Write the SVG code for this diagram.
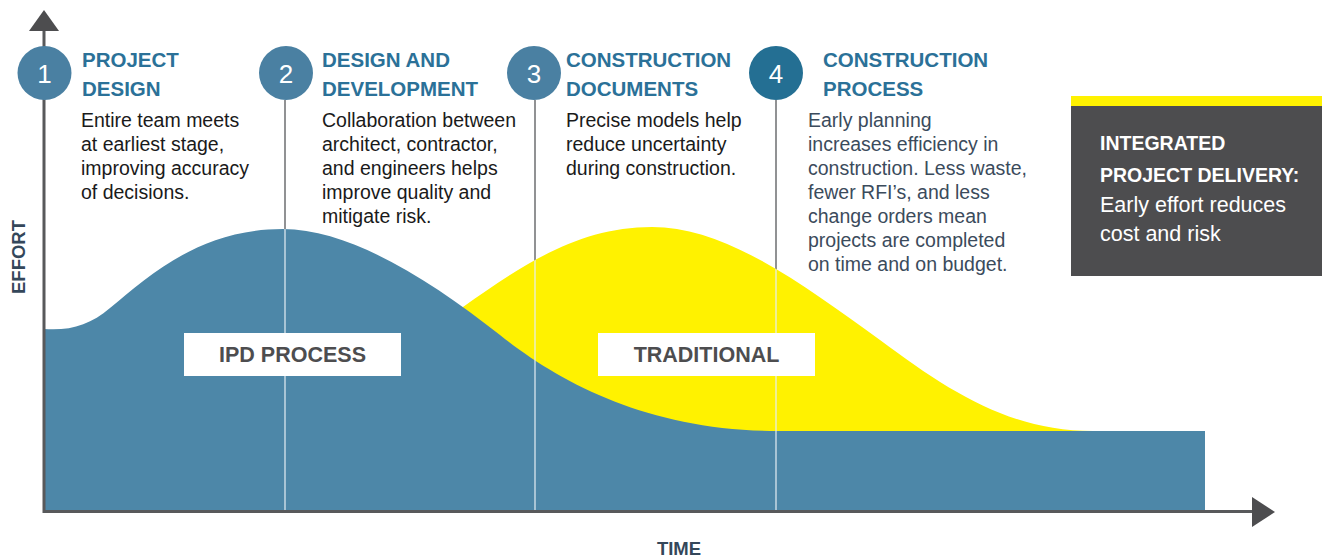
<svg xmlns="http://www.w3.org/2000/svg" width="1322" height="560" viewBox="0 0 1322 560">
<style>
.num{font-family:"Liberation Sans",Arial,sans-serif;font-size:26px;fill:#fff;text-anchor:middle}
.ttl{font-family:"Liberation Sans",Arial,sans-serif;font-size:20.5px;font-weight:bold;fill:#2b7198}
.body{font-family:"Liberation Sans",Arial,sans-serif;font-size:19.5px;fill:#1a1a1a}
.body4{font-family:"Liberation Sans",Arial,sans-serif;font-size:19.5px;fill:#3b4b5c}
.lbl{font-family:"Liberation Sans",Arial,sans-serif;font-size:21.5px;font-weight:bold;fill:#4d4d4f;text-anchor:middle}
.axl{font-family:"Liberation Sans",Arial,sans-serif;font-size:18.5px;font-weight:bold;fill:#34475a;text-anchor:middle}
.boxb{font-family:"Liberation Sans",Arial,sans-serif;font-size:19.5px;font-weight:bold;fill:#fff}
.boxr{font-family:"Liberation Sans",Arial,sans-serif;font-size:21.5px;fill:#fff}
.vline{stroke:#6d6e71;stroke-width:1.5;fill:none}
.wline{stroke:#e6eef3;stroke-width:1.2;fill:none}
.axis{stroke:#58595b;stroke-width:3;fill:none}
</style>
<defs>
<path id="bluePath" d="M44,329 C70,331 90,325 110,308 C150,275 200,229 283,229 C350,229 430,280 500,335 C560,383 650,431 777,431 L1205,431 L1205,511 L44,511 Z"/>
<path id="yellowPath" d="M463,307 C525,263 580,227 652,227 C725,227 800,282 880,340 C950,392 1010,431 1093,431 L1093,511 L463,511 Z"/>
<clipPath id="fillClip">
<use href="#bluePath"/>
<use href="#yellowPath"/>
</clipPath>
</defs>
<rect width="1322" height="560" fill="#fff"/>

<g id="connectors">
<line class="vline" x1="285" y1="100" x2="285" y2="511"/>
<line class="vline" x1="535" y1="100" x2="535" y2="511"/>
<line class="vline" x1="776" y1="100" x2="776" y2="511"/>
</g>

<g id="curves">
<use href="#yellowPath" fill="#fff200"/>
<use href="#bluePath" fill="#4d87a8"/>
<g clip-path="url(#fillClip)">
<line class="wline" x1="285" y1="100" x2="285" y2="511"/>
<line class="wline" x1="535" y1="100" x2="535" y2="511"/>
<line class="wline" x1="776" y1="100" x2="776" y2="511"/>
</g>
</g>

<g id="ipd-label">
<rect x="184" y="333" width="217" height="43" fill="#fff"/>
<text class="lbl" x="292.5" y="362">IPD PROCESS</text>
</g>
<g id="traditional-label">
<rect x="598" y="333" width="217" height="43" fill="#fff"/>
<text class="lbl" x="706.5" y="362">TRADITIONAL</text>
</g>

<g id="axes">
<line class="axis" x1="44" y1="28" x2="44" y2="513"/>
<line class="axis" x1="43" y1="511.5" x2="1254" y2="511.5"/>
<polygon points="44,10 59,31 29,31" fill="#4d4d4f"/>
<polygon points="1252,497 1275,512 1252,527" fill="#4d4d4f"/>
<text class="axl" transform="translate(25,257) rotate(-90)">EFFORT</text>
<text class="axl" x="679" y="555">TIME</text>
</g>

<g id="stage1">
<circle cx="44.5" cy="73" r="27" fill="#4a80a2"/>
<text class="num" x="44.5" y="82.5">1</text>
<text class="ttl" x="82" y="67">PROJECT</text>
<text class="ttl" x="82" y="96">DESIGN</text>
<text class="body" x="81" y="127">Entire team meets</text>
<text class="body" x="81" y="151">at earliest stage,</text>
<text class="body" x="81" y="175">improving accuracy</text>
<text class="body" x="81" y="199">of decisions.</text>
</g>

<g id="stage2">
<circle cx="286" cy="73" r="27" fill="#4a80a2"/>
<text class="num" x="286" y="82.5">2</text>
<text class="ttl" x="322" y="67">DESIGN AND</text>
<text class="ttl" x="322" y="96">DEVELOPMENT</text>
<text class="body" x="322" y="127">Collaboration between</text>
<text class="body" x="322" y="151">architect, contractor,</text>
<text class="body" x="322" y="175">and engineers helps</text>
<text class="body" x="322" y="199">improve quality and</text>
<text class="body" x="322" y="223">mitigate risk.</text>
</g>

<g id="stage3">
<circle cx="534" cy="73" r="27" fill="#4a80a2"/>
<text class="num" x="534" y="82.5">3</text>
<text class="ttl" x="566" y="67">CONSTRUCTION</text>
<text class="ttl" x="566" y="96">DOCUMENTS</text>
<text class="body" x="566" y="127">Precise models help</text>
<text class="body" x="566" y="151">reduce uncertainty</text>
<text class="body" x="566" y="175">during construction.</text>
</g>

<g id="stage4">
<circle cx="776" cy="73" r="27" fill="#246f93"/>
<text class="num" x="776" y="82.5">4</text>
<text class="ttl" x="823" y="67">CONSTRUCTION</text>
<text class="ttl" x="823" y="96">PROCESS</text>
<text class="body4" x="808" y="127">Early planning</text>
<text class="body4" x="808" y="151">increases efficiency in</text>
<text class="body4" x="808" y="175">construction. Less waste,</text>
<text class="body4" x="808" y="199">fewer RFI’s, and less</text>
<text class="body4" x="808" y="223">change orders mean</text>
<text class="body4" x="808" y="247">projects are completed</text>
<text class="body4" x="808" y="271">on time and on budget.</text>
</g>

<g id="ipd-box">
<rect x="1071" y="96" width="251" height="10" fill="#fff200"/>
<rect x="1071" y="106" width="251" height="170" fill="#4d4d4f"/>
<text class="boxb" x="1100" y="150">INTEGRATED</text>
<text class="boxb" x="1100" y="182">PROJECT DELIVERY:</text>
<text class="boxr" x="1100" y="212">Early effort reduces</text>
<text class="boxr" x="1100" y="241">cost and risk</text>
</g>
</svg>
